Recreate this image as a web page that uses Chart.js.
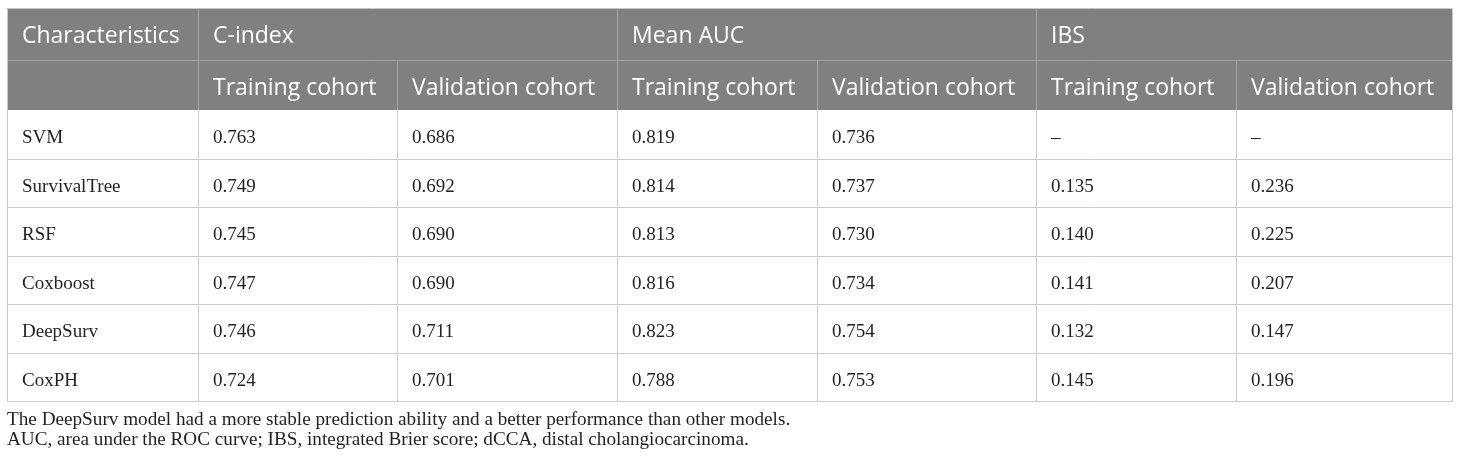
<!DOCTYPE html>
<html>
<head>
<meta charset="utf-8">
<script src="https://cdn.jsdelivr.net/npm/chart.js@4.4.1/dist/chart.umd.min.js"></script>
<style>
  html, body { margin: 0; padding: 0; background: #fff; }
  #wrap { position: relative; width: 1460px; height: 463px; }
  .note {
    position: absolute; left: 7px;
    font-family: "Liberation Serif", "DejaVu Serif", serif;
    font-size: 19.2px; line-height: 20px; color: #231f20;
    white-space: nowrap;
  }
</style>
</head>
<body>
<div id="wrap">
  <canvas id="tableChart"></canvas>
  <div class="note" id="note" style="top:409px"></div>
</div>
<script>
// table content
const groupHeaders = ['Characteristics', 'C-index', 'Mean AUC', 'IBS'];
const subHeaders = ['Training cohort', 'Validation cohort'];
const models = ['SVM', 'SurvivalTree', 'RSF', 'Coxboost', 'DeepSurv', 'CoxPH'];
const cIndexTraining = [0.763, 0.749, 0.745, 0.747, 0.746, 0.724];
const cIndexValidation = [0.686, 0.692, 0.690, 0.690, 0.711, 0.701];
const aucTraining = [0.819, 0.814, 0.813, 0.816, 0.823, 0.788];
const aucValidation = [0.736, 0.737, 0.730, 0.734, 0.754, 0.753];
const ibsTraining = [null, 0.135, 0.140, 0.141, 0.132, 0.145];
const ibsValidation = [null, 0.236, 0.225, 0.207, 0.147, 0.196];
const footnotes = [
  'The DeepSurv model had a more stable prediction ability and a better performance than other models.',
  'AUC, area under the ROC curve; IBS, integrated Brier score; dCCA, distal cholangiocarcinoma.'
];

// layout (scale units)
const tableLeft = 7;
const tableTop = 8;
const colWidths = [190.5, 199.5, 220, 199.5, 219.5, 200, 216];
const headerHeights = [52, 50];
const rowHeight = 48.5;

const colEdges = [tableLeft];
colWidths.forEach(w => colEdges.push(colEdges[colEdges.length - 1] + w));
const rowEdges = [tableTop];
headerHeights.forEach(h => rowEdges.push(rowEdges[rowEdges.length - 1] + h));
models.forEach(() => rowEdges.push(rowEdges[rowEdges.length - 1] + rowHeight));

const valueColumns = [cIndexTraining, cIndexValidation, aucTraining, aucValidation, ibsTraining, ibsValidation];
const fmt = v => (v === null ? '\u2013' : v.toFixed(3));

const tablePlugin = {
  id: 'tablePlugin',
  afterDraw(chart) {
    const ctx = chart.ctx;
    const xs = chart.scales.x;
    const ys = chart.scales.y;
    const X = v => Math.round(xs.getPixelForValue(v));
    const Y = v => Math.round(ys.getPixelForValue(v));
    const left = colEdges[0], right = colEdges[colEdges.length - 1];
    const top = rowEdges[0], headBottom = rowEdges[2], bottom = rowEdges[rowEdges.length - 1];
    const pad = 15;

    const line = (x1, y1, x2, y2, color) => {
      ctx.strokeStyle = color;
      ctx.lineWidth = 1;
      ctx.beginPath();
      ctx.moveTo(X(x1) + 0.5, Y(y1) + 0.5);
      ctx.lineTo(X(x2) + 0.5, Y(y2) + 0.5);
      ctx.stroke();
    };

    ctx.save();
    // header background
    ctx.fillStyle = '#808080';
    ctx.fillRect(X(left), Y(top), X(right) - X(left), Y(headBottom) - Y(top));

    // header lines
    const headLine = '#a4a4a4';
    line(left, rowEdges[1], right, rowEdges[1], headLine);
    [1, 3, 5].forEach(i => line(colEdges[i], top, colEdges[i], rowEdges[1], headLine));
    for (let i = 1; i < colEdges.length - 1; i++) line(colEdges[i], rowEdges[1], colEdges[i], headBottom, headLine);

    // body lines
    const bodyLine = '#cdcdcd';
    for (let r = 3; r < rowEdges.length - 1; r++) line(left, rowEdges[r], right, rowEdges[r], bodyLine);
    for (let i = 1; i < colEdges.length - 1; i++) line(colEdges[i], headBottom, colEdges[i], bottom, bodyLine);
    // outer border
    line(left, top, right, top, '#c8c8c8');
    line(left, bottom, right, bottom, bodyLine);
    line(left, top, left, bottom, '#c8c8c8');
    line(right, top, right, bottom, '#c8c8c8');

    // header text
    ctx.fillStyle = '#ffffff';
    ctx.font = '23px "Open Sans", "Noto Sans", sans-serif';
    ctx.textAlign = 'left';
    ctx.textBaseline = 'alphabetic';
    const groupCols = [0, 1, 3, 5];
    groupHeaders.forEach((t, g) => {
      ctx.fillText(t, X(colEdges[groupCols[g]]) + pad, Y(rowEdges[0] + headerHeights[0] / 2) + 9);
    });
    for (let c = 1; c < colEdges.length - 1; c++) {
      ctx.fillText(subHeaders[(c - 1) % 2], X(colEdges[c]) + pad, Y(rowEdges[1] + headerHeights[1] / 2) + 10);
    }

    // body text
    ctx.fillStyle = '#231f20';
    ctx.font = '19px "Liberation Serif", "DejaVu Serif", serif';
    models.forEach((m, r) => {
      const yb = Y(rowEdges[r + 2] + rowHeight / 2) + 8.5;
      ctx.fillText(m, X(colEdges[0]) + pad, yb);
      valueColumns.forEach((col, c) => {
        ctx.fillText(fmt(col[r]), X(colEdges[c + 1]) + pad, yb);
      });
    });
    ctx.restore();
  }
};

document.getElementById('note').innerHTML = footnotes.join('<br>');

new Chart(document.getElementById('tableChart'), {
  type: 'scatter',
  data: { datasets: [{ data: [] }] },
  options: {
    responsive: true,
    maintainAspectRatio: false,
    animation: false,
    layout: { padding: 0 },
    plugins: { legend: { display: false }, tooltip: { enabled: false } },
    scales: {
      x: { type: 'linear', min: 0, max: 1460, display: false },
      y: { type: 'linear', min: 0, max: 463, reverse: true, display: false }
    }
  },
  plugins: [tablePlugin]
});
</script>
</body>
</html>
